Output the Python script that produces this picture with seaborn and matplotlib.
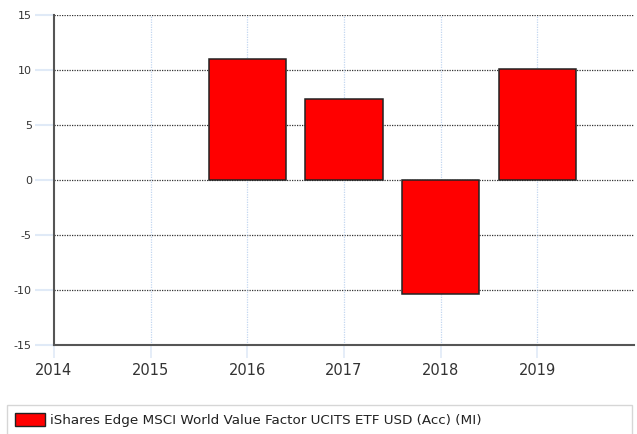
import matplotlib
matplotlib.use("Agg")
import matplotlib.pyplot as plt
import seaborn as sns
import pandas as pd
from matplotlib.patches import Patch

years = [2016, 2017, 2018, 2019]
returns = [10.97, 7.36, -10.36, 10.1]
series_name = "iShares Edge MSCI World Value Factor UCITS ETF USD (Acc) (MI)"
x_ticks = [2014, 2015, 2016, 2017, 2018, 2019]
y_ticks = [-15, -10, -5, 0, 5, 10, 15]

sns.set_style("white")
plt.rcParams['font.family'] = ['DejaVu Sans']
plt.rcParams['axes.unicode_minus'] = False

df = pd.DataFrame({"year": years, "ret": returns})

fig = plt.figure(figsize=(6.37, 4.34), dpi=100)
ax = fig.add_axes([54/637, 1-345/434, 580/637, 330/434])

sns.barplot(data=df, x="year", y="ret", native_scale=True, color="#ff0000",
            saturation=1, edgecolor="#222222", linewidth=1.1, width=0.8, ax=ax, zorder=3)

ax.set_xlim(2014, 2020)
ax.set_ylim(-15, 15)
ax.set_xticks(x_ticks)
ax.set_xticklabels([str(t) for t in x_ticks])
ax.set_yticks(y_ticks)
ax.set_yticklabels([str(t) for t in y_ticks])
ax.set_xlabel("")
ax.set_ylabel("")

# grids
for y in y_ticks:
    ax.axhline(y, color="#333333", linestyle=(0, (1, 1)), linewidth=0.9, zorder=1)
for x in x_ticks[1:]:
    ax.axvline(x, color="#c3d7f0", linestyle=(0, (1, 1)), linewidth=0.9, zorder=1)

for s in ["top", "right"]:
    ax.spines[s].set_visible(False)
for s in ["left", "bottom"]:
    ax.spines[s].set_color("#555555")
    ax.spines[s].set_linewidth(1.5)
    ax.spines[s].set_zorder(4)

ax.tick_params(axis="y", length=14, width=1.5, color="#e0eaf7", labelsize=8, labelcolor="#333333", pad=2, left=True)
ax.tick_params(axis="x", length=9, width=1.2, color="#e0eaf7", labelsize=10.5, labelcolor="#333333", pad=4, bottom=True)

handle = Patch(facecolor="#ff0000", edgecolor="#222222", linewidth=1.0)
leg = fig.legend([handle], [series_name], loc="upper left",
                 bbox_to_anchor=(7/637, 1-405/434, 625/637, 0.0), mode="expand",
                 frameon=True, fancybox=False, fontsize=9.7, handlelength=2.2,
                 handleheight=1.1, handletextpad=0.4, borderaxespad=0, borderpad=0.6)
leg.get_frame().set_edgecolor("#cccccc")
leg.get_frame().set_linewidth(1.0)
for t in leg.get_texts():
    t.set_color("#222222")

fig.savefig("out.png", dpi=100)
